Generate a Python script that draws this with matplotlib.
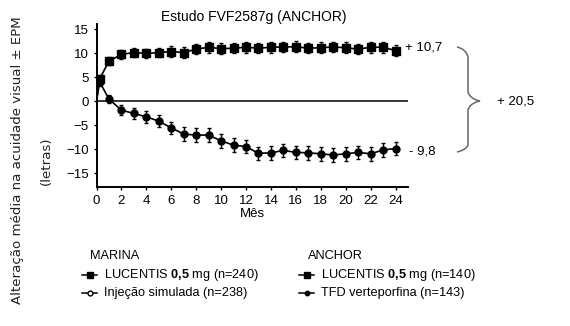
import matplotlib
matplotlib.use("Agg")
import matplotlib.pyplot as plt
from matplotlib.lines import Line2D
from matplotlib.path import Path
from matplotlib.patches import PathPatch

# ANCHOR study, mean change in visual acuity (letters)
meses = [0, 0.25, 1, 2, 3, 4, 5, 6, 7, 8, 9, 10, 11, 12,
         13, 14, 15, 16, 17, 18, 19, 20, 21, 22, 23, 24]
lucentis = [0, 4.6, 8.3, 9.7, 10.1, 9.9, 10.1, 10.3, 10.1, 10.8, 11.2, 10.9, 11.0, 11.2,
            11.0, 11.2, 11.25, 11.3, 11.0, 11.1, 11.25, 11.1, 10.8, 11.2, 11.2, 10.5]
lucentis_epm = [0, 0.8, 0.9, 1.0, 1.0, 1.0, 1.0, 1.1, 1.1, 1.1, 1.1, 1.1, 1.1, 1.1,
                1.1, 1.1, 1.1, 1.1, 1.1, 1.1, 1.1, 1.1, 1.1, 1.1, 1.1, 1.2]
tfd = [0, 4.0, 0.4, -1.9, -2.6, -3.3, -4.2, -5.6, -6.9, -7.1, -7.1, -8.3, -9.2, -9.5,
       -10.9, -10.8, -10.3, -10.7, -10.8, -11.0, -11.25, -11.0, -10.7, -11.0, -10.2, -9.9]
tfd_epm = [0, 0.8, 0.9, 1.1, 1.2, 1.2, 1.3, 1.3, 1.4, 1.4, 1.4, 1.4, 1.4, 1.4,
           1.4, 1.4, 1.4, 1.4, 1.4, 1.4, 1.4, 1.4, 1.4, 1.4, 1.4, 1.4]
yticks = [-15, -10, -5, 0, 5, 10, 15]
xticks = list(range(0, 25, 2))

plt.rcParams["font.family"] = ["Liberation Sans", "DejaVu Sans"]
plt.rcParams["mathtext.fontset"] = "custom"
plt.rcParams["mathtext.rm"] = "Liberation Sans"
plt.rcParams["mathtext.bf"] = "Liberation Sans:bold"

W, H = 570, 326
fig = plt.figure(figsize=(W / 100, H / 100), dpi=100)
ax = fig.add_axes([96.5 / W, 1 - 187.4 / H, 311.5 / W, 163.2 / H])


def fx(x):
    return x / W


def fy(y):
    return 1 - y / H


ax.axhline(0, color="black", lw=1.1)
ax.plot(meses, lucentis, color="black", lw=1.2)
ax.plot(meses, tfd, color="black", lw=1.2)
ax.errorbar(meses[1:], lucentis[1:], yerr=lucentis_epm[1:], fmt="s", color="black",
            ms=5.5, elinewidth=1, capsize=1.5, capthick=1)
ax.errorbar(meses[1:], tfd[1:], yerr=tfd_epm[1:], fmt="o", color="black",
            ms=5, elinewidth=1, capsize=1.5, capthick=1)

ax.set_xlim(0, 25)
ax.set_ylim(-18, 16)
ax.set_xticks(xticks)
ax.set_yticks(yticks)
ax.tick_params(labelsize=9.5, length=2.5, width=1, pad=3)
for s in ["top", "right"]:
    ax.spines[s].set_visible(False)
for s in ["left", "bottom"]:
    ax.spines[s].set_linewidth(1.4)
ax.set_xlabel("Mês", fontsize=9.5, labelpad=1)

fig.text(fx(254), fy(17), "Estudo FVF2587g (ANCHOR)", ha="center", va="center", fontsize=10)

# y label (two lines, different typeface)
fig.text(fx(18), fy(160), "Alteração média na acuidade visual ± EPM", rotation=90,
         ha="center", va="center", fontsize=9.6, family="DejaVu Sans", color="#222222")
fig.text(fx(46), fy(161), "(letras)", rotation=90, ha="center", va="center",
         fontsize=9.6, family="DejaVu Sans", color="#222222")

# annotations
fig.text(fx(405), fy(48), "+ 10,7", ha="left", va="center", fontsize=9.5)
fig.text(fx(409), fy(151), "- 9,8", ha="left", va="center", fontsize=9.5)
fig.text(fx(497), fy(102), "+ 20,5", ha="left", va="center", fontsize=9.5)

# brace
bx = [457, 466, 468, 468, 470, 480, 470, 468, 468, 466, 457]
by = [47, 49, 57, 92, 99, 101, 103, 110, 145, 150, 152]
verts = [(fx(x), fy(y)) for x, y in zip(bx, by)]
codes = [Path.MOVETO, Path.CURVE3, Path.CURVE3, Path.LINETO, Path.CURVE3, Path.CURVE3,
         Path.CURVE3, Path.CURVE3, Path.LINETO, Path.CURVE3, Path.CURVE3]
fig.add_artist(PathPatch(Path(verts, codes), transform=fig.transFigure, fill=False,
                         edgecolor="#666666", lw=1.1))

# legend
fs = 9.2
fig.text(fx(90), fy(256), "MARINA", ha="left", va="center", fontsize=fs)
fig.text(fx(308), fy(256), "ANCHOR", ha="left", va="center", fontsize=fs)
entries = [
    (82, 275, "s", "black", 4.5, r"LUCENTIS $\mathbf{0{,}5}$ mg (n=240)"),
    (82, 293, "o", "white", 3.5, "Injeção simulada (n=238)"),
    (299, 275, "s", "black", 4.5, r"LUCENTIS $\mathbf{0{,}5}$ mg (n=140)"),
    (299, 293, "o", "black", 3.2, "TFD verteporfina (n=143)"),
]
for x0, y0, mk, fc, ms, label in entries:
    fig.add_artist(Line2D([fx(x0), fx(x0 + 15)], [fy(y0), fy(y0)], transform=fig.transFigure,
                          color="black", lw=1.1))
    fig.add_artist(Line2D([fx(x0 + 7.5)], [fy(y0)], transform=fig.transFigure, marker=mk,
                          ms=ms, mfc=fc, mec="black", mew=1, color="black"))
    fig.text(fx(x0 + 22), fy(y0), label, ha="left", va="center", fontsize=fs)

fig.savefig("out.png", dpi=100)
